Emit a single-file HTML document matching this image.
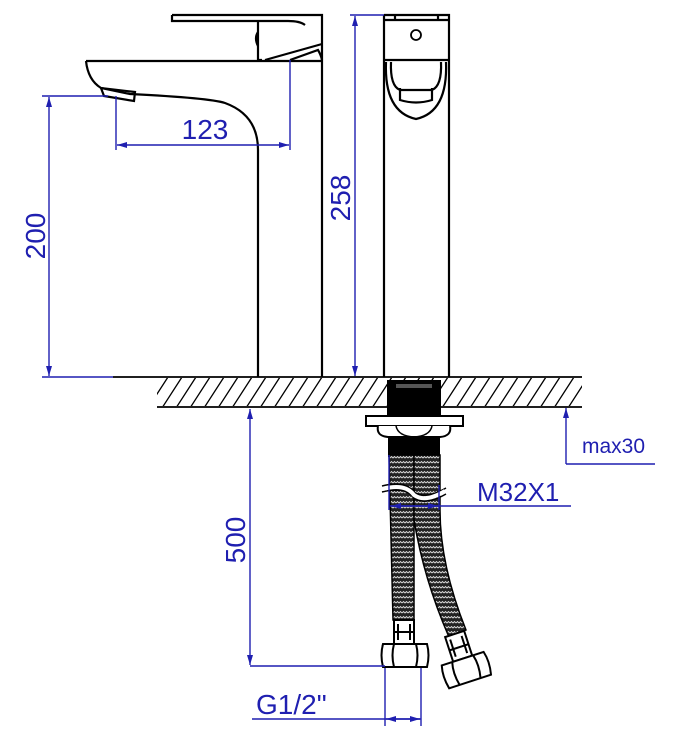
<!DOCTYPE html>
<html><head><style>html,body{margin:0;padding:0;background:#fff}svg{display:block}</style></head>
<body>
<svg width="673" height="743" viewBox="0 0 673 743" xmlns="http://www.w3.org/2000/svg">
<defs>
<pattern id="hatch" width="14" height="31" patternUnits="userSpaceOnUse" x="0" y="377">
<line x1="14" y1="0" x2="-6" y2="31" stroke="#000" stroke-width="1.3"/>
<line x1="28" y1="0" x2="8" y2="31" stroke="#000" stroke-width="1.3"/>
</pattern>
<pattern id="braid" width="6" height="5" patternUnits="userSpaceOnUse">
<rect width="6" height="5" fill="#222"/>
<path d="M0 3 L1.5 1.5 L3 3 L4.5 1.5 L6 3" stroke="#ddd" stroke-width="0.9" fill="none"/>
</pattern>
<marker id="ar" viewBox="0 0 10 6" refX="10" refY="3" markerWidth="10" markerHeight="6" orient="auto-start-reverse" markerUnits="userSpaceOnUse">
<path d="M0 0 L10 3 L0 6 Z" fill="#1f1fb0"/>
</marker>
</defs>
<g fill="none" stroke="#000" stroke-width="2.2">
<path d="M172 15 H322 V377"/>
<path d="M172 15 V21 H258"/>
<path d="M258 21 V60 H262 M258 21 H288 Q300 21 305 25"/>
<path d="M258 32 Q254 38 258 46"/>
<path d="M265 60 L322 44 M290 60 L318 50 Q321 55 322 60"/>
<path d="M86 61 H322"/>
<path d="M86 61 Q88 80 101 88 L130 94 Q210 98 225 103 Q258 115 258 150 V377"/>
<path d="M101 88 L104 96 L134 101 L135 92 Z"/>
<path d="M384 15 H449 V377 M384 15 V377"/>
<path d="M384 20 H449 M395 15 V20 M438 15 V20"/>
<path d="M384 60 H449"/>
<circle cx="416" cy="35" r="5" stroke-width="1.8"/>
<path d="M386 62 Q384 112 416 119 Q448 112 446 62"/>
<path d="M391 62 Q390 86 400 90 H432 Q442 86 441 62"/>
<path d="M400 88 V100 Q416 105 432 100 V88"/>
<path d="M113 377 H582 M157 407 H582" stroke-width="1.8"/>
</g>
<rect x="157" y="378" width="425" height="28" fill="url(#hatch)"/>
<rect x="387" y="380" width="54" height="40" fill="#000"/>
<rect x="396" y="384" width="36" height="4" fill="#555"/>
<rect x="366" y="416" width="97" height="10" fill="#fff" stroke="#000" stroke-width="2"/>
<path d="M378 426 Q376 436 388 437 H440 Q452 436 450 426" fill="#fff" stroke="#000" stroke-width="2"/>
<path d="M396 426 Q398 436 414 437 Q430 436 432 426" fill="none" stroke="#000" stroke-width="1.5"/>
<rect x="388" y="437" width="52" height="20" fill="#000"/>
<path d="M389 455 H414 V620 H393 Z" fill="url(#braid)" stroke="#000" stroke-width="1.5"/>
<path d="M414 455 H440 V510 Q440 565 466 630 L449 637 Q424 580 414 520 Z" fill="url(#braid)" stroke="#000" stroke-width="1.5"/>
<path d="M382 486 Q405 480 414 492 Q425 500 446 488 M382 492 Q405 486 414 498 Q425 506 446 494" fill="none" stroke="#000" stroke-width="1.5"/>
<path d="M383 489 Q405 483 414 495 Q425 503 445 491" fill="none" stroke="#fff" stroke-width="4"/>
<g fill="#fff" stroke="#000" stroke-width="2">
<rect x="394" y="620" width="20" height="24"/>
<path d="M398 624 V640 M410 624 V640 M394 632 H414" fill="none"/>
<path d="M383 644 H427 Q430 655 427 667 H383 Q380 655 383 644 Z"/>
<path d="M394 644 Q391 655 394 667 M416 644 Q419 655 416 667" fill="none"/>
</g>
<g transform="rotate(-18 467 672)" fill="#fff" stroke="#000" stroke-width="2">
<rect x="457" y="632" width="20" height="26"/>
<path d="M461 636 V654 M473 636 V654 M457 646 H477" fill="none"/>
<path d="M445 658 H489 Q492 669 489 682 H445 Q442 669 445 658 Z"/>
<path d="M456 658 Q453 669 456 682 M478 658 Q481 669 478 682" fill="none"/>
</g>
<g stroke="#1f1fb0" stroke-width="1.4" fill="none">
<path d="M42 96 H108 M42 377 H113"/>
<path d="M49 97 V376" marker-start="url(#ar)" marker-end="url(#ar)"/>
<path d="M116 96 V150 M290 60 V150"/>
<path d="M117 145 H289" marker-start="url(#ar)" marker-end="url(#ar)"/>
<path d="M350 15 H384"/>
<path d="M355 16 V376" marker-start="url(#ar)" marker-end="url(#ar)"/>
<path d="M250 409 V665" marker-start="url(#ar)" marker-end="url(#ar)"/>
<path d="M250 666 H385"/>
<path d="M566 464 V408" marker-end="url(#ar)"/>
<path d="M566 464 H655"/>
<path d="M389 455 V510 M439 485 V510"/>
<path d="M390 506 H571"/>
<path d="M391 506 H438" marker-start="url(#ar)" marker-end="url(#ar)"/>
<path d="M385 668 V726 M421 668 V726"/>
<path d="M252 719 H421"/>
<path d="M386 719 H420" marker-start="url(#ar)" marker-end="url(#ar)"/>
</g>
<g fill="#1f1fb0" font-family="Liberation Sans, sans-serif">
<text x="205" y="139" font-size="28" text-anchor="middle">123</text>
<text transform="translate(45 236) rotate(-90)" font-size="28" text-anchor="middle">200</text>
<text transform="translate(350 198) rotate(-90)" font-size="28" text-anchor="middle">258</text>
<text transform="translate(245 540) rotate(-90)" font-size="28" text-anchor="middle">500</text>
<text x="582" y="453" font-size="21">max30</text>
<text x="477" y="501" font-size="26">M32X1</text>
<text x="256" y="714" font-size="28">G1/2"</text>
</g>
</svg>
</body></html>
